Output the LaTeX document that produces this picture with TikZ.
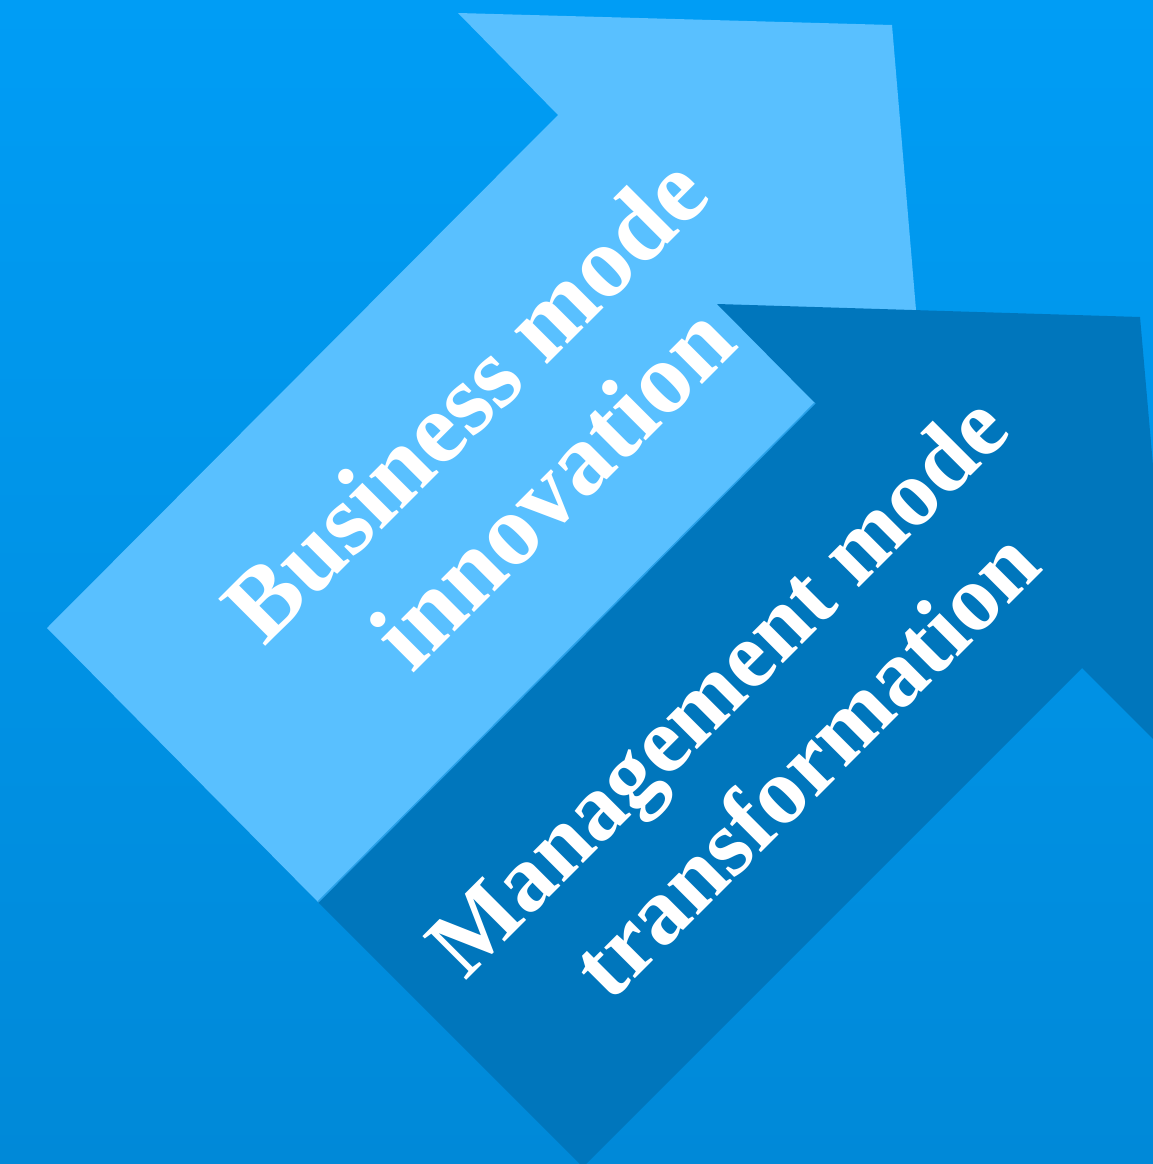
\documentclass[tikz,border=0pt]{standalone}
\usepackage{fontspec}
\setmainfont{Liberation Serif}
\definecolor{bgtop}{RGB}{0,157,245}
\definecolor{bgbot}{RGB}{0,137,216}
\definecolor{lightarrow}{RGB}{89,192,255}
\definecolor{darkarrow}{RGB}{0,118,188}
\definecolor{edgeblue}{RGB}{40,160,232}
\tikzset{
  label1/.style={rotate=45, anchor=base, inner sep=0pt, text=white, font=\bfseries\fontsize{101.5}{120}\selectfont},
  label2/.style={rotate=45, anchor=base, inner sep=0pt, text=white, font=\bfseries\fontsize{94.5}{112}\selectfont}
}
\begin{document}
\begin{tikzpicture}[x=1pt,y=-1pt]
\useasboundingbox (0,0) rectangle (1153,1164);
\clip (0,0) rectangle (1153,1164);
\shade[top color=bgtop, bottom color=bgbot] (0,0) rectangle (1153,1164);
% light arrow
\fill[lightarrow] (47,628) -- (558,115) -- (458,13) -- (892,25) -- (916,310) -- (930,460) -- (815,403) -- (318,902) -- cycle;
% dark arrow
\fill[darkarrow] (318,902) -- (815,403) -- (717,304) -- (1140,317) -- (1170,660) -- (1170,756) -- (1082,668) -- (583,1167) -- cycle;
\draw[edgeblue, line width=1.5pt] (318,902) -- (815,403);
% texts
\node[label1] (b1) at (489,423) {Business mode};
\node[label1] (b2) at (576.5,510.5) {innovation};
\node[label2] (m1) at (739.5,707.5) {Management mode};
\node[label2] (m2) at (828,786) {transformation};
\end{tikzpicture}
\end{document}
